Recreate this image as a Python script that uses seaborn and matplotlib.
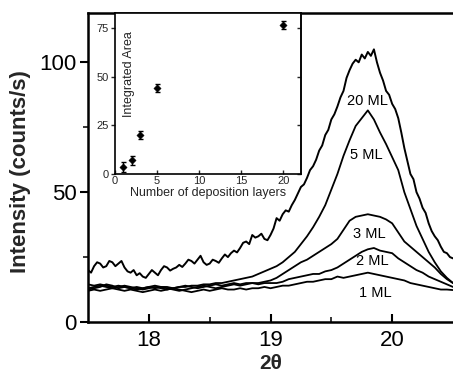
import numpy as np
import pandas as pd
import matplotlib
matplotlib.use("Agg")
import matplotlib.pyplot as plt
import seaborn as sns

# ---------------- data ----------------
two_theta = [17.50, 17.55, 17.60, 17.65, 17.70, 17.75, 17.80, 17.85, 17.90, 17.95,
             18.00, 18.05, 18.10, 18.15, 18.20, 18.25, 18.30, 18.35, 18.40, 18.45,
             18.50, 18.55, 18.60, 18.65, 18.70, 18.75, 18.80, 18.85, 18.90, 18.95,
             19.00, 19.05, 19.10, 19.15, 19.20, 19.25, 19.30, 19.35, 19.40, 19.45,
             19.50, 19.55, 19.60, 19.65, 19.70, 19.75, 19.80, 19.85, 19.90, 19.95,
             20.00, 20.05, 20.10, 20.15, 20.20, 20.25, 20.30, 20.35, 20.40, 20.45,
             20.50]

two_theta_fine = [17.500, 17.525, 17.550, 17.575, 17.600, 17.625, 17.650, 17.675, 17.700, 17.725,
                  17.750, 17.775, 17.800, 17.825, 17.850, 17.875, 17.900, 17.925, 17.950, 17.975,
                  18.000, 18.025, 18.050, 18.075, 18.100, 18.125, 18.150, 18.175, 18.200, 18.225,
                  18.250, 18.275, 18.300, 18.325, 18.350, 18.375, 18.400, 18.425, 18.450, 18.475,
                  18.500, 18.525, 18.550, 18.575, 18.600, 18.625, 18.650, 18.675, 18.700, 18.725,
                  18.750, 18.775, 18.800, 18.825, 18.850, 18.875, 18.900, 18.925, 18.950, 18.975,
                  19.000, 19.025, 19.050, 19.075, 19.100, 19.125, 19.150, 19.175, 19.200, 19.225,
                  19.250, 19.275, 19.300, 19.325, 19.350, 19.375, 19.400, 19.425, 19.450, 19.475,
                  19.500, 19.525, 19.550, 19.575, 19.600, 19.625, 19.650, 19.675, 19.700, 19.725,
                  19.750, 19.775, 19.800, 19.825, 19.850, 19.875, 19.900, 19.925, 19.950, 19.975,
                  20.000, 20.025, 20.050, 20.075, 20.100, 20.125, 20.150, 20.175, 20.200, 20.225,
                  20.250, 20.275, 20.300, 20.325, 20.350, 20.375, 20.400, 20.425, 20.450, 20.475,
                  20.500]

ml20 = [20.0, 19.0, 21.5, 23.0, 22.5, 21.0, 21.5, 23.5, 23.0, 21.5,
        22.5, 23.5, 21.0, 19.5, 19.0, 20.0, 18.0, 18.8, 17.5, 17.0,
        18.5, 20.0, 19.0, 18.0, 20.0, 21.5, 21.0, 19.8, 20.5, 21.0,
        22.0, 21.2, 22.5, 24.0, 23.5, 22.5, 24.0, 25.5, 23.0, 22.0,
        22.5, 24.0, 23.5, 22.8, 24.5, 26.0, 25.0, 26.5, 27.5, 26.8,
        28.5, 30.5, 31.0, 30.0, 33.5, 32.5, 33.0, 34.0, 32.0, 31.5,
        33.5, 36.0, 40.0, 39.0, 41.5, 43.0, 42.5, 45.0, 47.0, 49.5,
        52.0, 53.0, 55.5, 58.5, 60.0, 62.5, 66.0, 68.0, 72.0, 74.0,
        78.0, 80.0, 83.0, 86.5, 89.0, 94.0, 97.0, 99.5, 101.0, 100.0,
        103.0, 101.5, 104.0, 102.5, 105.0, 100.0, 96.0, 93.0, 89.0, 87.5,
        84.0, 82.0, 78.5, 73.0, 67.0, 62.0, 57.0, 55.0, 50.0, 47.5,
        44.0, 42.0, 38.0, 35.0, 33.0, 31.5, 29.0, 27.0, 26.5, 25.0,
        24.5]

ml5 = [14.5, 14.0, 14.5, 14.0, 13.5, 14.0, 13.5, 13.0, 13.5, 13.0,
       13.5, 13.0, 13.5, 13.5, 13.0, 13.5, 13.5, 14.0, 14.0, 14.5,
       14.5, 15.0, 15.0, 15.5, 16.0, 16.5, 17.0, 17.5, 18.5, 19.5,
       20.5, 21.5, 23.0, 25.0, 27.0, 30.0, 33.0, 36.5, 40.5, 45.0,
       51.0, 57.0, 64.0, 70.0, 75.5, 78.5, 81.5, 78.0, 73.0, 68.5,
       63.5, 58.5, 50.0, 43.5, 37.0, 32.0, 27.0, 23.0, 19.5, 17.0,
       15.0]

ml3 = [13.0, 13.5, 14.0, 13.5, 13.0, 13.5, 14.0, 13.5, 13.0, 12.5,
       13.0, 13.5, 13.0, 12.5, 13.0, 13.5, 14.0, 13.5, 13.0, 13.5,
       14.0, 14.5, 14.0, 14.5, 15.0, 14.5, 15.0, 15.0, 15.0, 15.5,
       16.0, 17.0, 18.5, 20.0, 21.5, 23.0, 24.0, 25.5, 27.0, 28.5,
       30.0, 32.0, 35.5, 39.0, 40.5, 41.0, 41.5, 41.0, 40.5, 39.5,
       38.0, 34.5, 31.0, 29.0, 27.0, 25.0, 23.0, 21.0, 18.5, 16.5,
       15.0]

ml2 = [12.5, 13.0, 13.5, 14.5, 14.0, 13.0, 13.5, 13.0, 12.5, 13.0,
       13.5, 14.0, 13.5, 13.0, 12.5, 12.0, 12.5, 13.0, 13.5, 14.0,
       13.5, 13.0, 13.5, 14.0, 14.5, 14.0, 14.5, 15.0, 14.5, 15.0,
       15.0, 15.0, 15.5, 16.5, 17.0, 17.5, 18.0, 18.5, 18.5, 19.5,
       20.0, 21.0, 22.5, 24.0, 25.5, 27.0, 28.0, 28.5, 27.5, 27.0,
       26.5, 24.5, 23.0, 21.5, 20.0, 19.0, 17.5, 16.5, 15.5, 14.5,
       13.5]

ml1 = [12.0, 12.5, 12.0, 12.5, 13.0, 12.5, 12.0, 12.5, 12.0, 11.5,
       12.0, 12.5, 12.0, 12.5, 13.0, 12.5, 12.0, 11.5, 12.0, 12.5,
       12.0, 12.5, 13.0, 12.5, 12.5, 13.0, 12.5, 13.0, 13.0, 13.5,
       13.0, 13.5, 14.0, 14.0, 14.5, 15.0, 15.5, 15.5, 16.0, 16.5,
       16.5, 17.5, 17.0, 17.5, 18.0, 18.5, 19.0, 18.5, 18.0, 17.5,
       17.0, 16.5, 16.0, 15.0, 14.5, 14.0, 13.5, 13.0, 12.5, 12.5,
       12.3]

curve_labels = ["20 ML", "5 ML", "3 ML", "2 ML", "1 ML"]
label_x = [19.80, 19.79, 19.81, 19.84, 19.86]
label_y = [85.0, 64.5, 34.0, 23.5, 11.2]

layers = [1, 2, 3, 5, 20]
area = [3.5, 7.0, 20.0, 44.0, 76.5]
area_err = [2.5, 2.5, 2.0, 2.0, 2.0]

# ---------------- style ----------------
sns.set_style("ticks")
plt.rcParams["font.family"] = ["Liberation Sans", "DejaVu Sans"]

fig = plt.figure(figsize=(4.53, 3.75), dpi=100)
ax = fig.add_axes([88 / 453, 1 - 322 / 375, 1 - 88 / 453, (322 - 13) / 375])

sns.lineplot(x=two_theta_fine, y=ml20, ax=ax, color="black", lw=1.4,
             estimator=None, sort=False, legend=False)
series = {"5 ML": ml5, "3 ML": ml3, "2 ML": ml2, "1 ML": ml1}
for name, vals in series.items():
    sns.lineplot(x=two_theta, y=vals, ax=ax, color="black", lw=1.3,
                 estimator=None, sort=False, legend=False)

for t, lx, ly in zip(curve_labels, label_x, label_y):
    ax.text(lx, ly, t, ha="center", va="center", fontsize=10.5, color="black")

ax.set_xlim(17.5, 20.5)
ax.set_ylim(0, 119)
ax.set_xticks([18, 19, 20])
ax.set_xticks([18.5, 19.5], minor=True)
ax.set_yticks([0, 50, 100])
ax.set_yticks([25, 75], minor=True)
ax.tick_params(axis="both", which="major", labelsize=16, width=1.5, colors="black")
ax.tick_params(axis="x", which="major", direction="in", length=6, pad=6)
ax.tick_params(axis="x", which="minor", direction="in", length=3.5, width=1.3)
ax.tick_params(axis="y", which="major", direction="out", length=6, pad=2)
ax.tick_params(axis="y", which="minor", direction="out", length=3.5, width=1.3)
for s in ["left", "bottom", "top"]:
    ax.spines[s].set_linewidth(1.8)
    ax.spines[s].set_color("black")
ax.spines["right"].set_visible(False)
ax.set_xlabel("2θ", fontsize=15, fontweight="bold", labelpad=2)
ax.set_ylabel("Intensity (counts/s)", fontsize=16, fontweight="bold")
ax.yaxis.set_label_coords(-0.155, 0.487)

# ---------------- inset ----------------
axi = fig.add_axes([115 / 453, 1 - 174 / 375, (301 - 115) / 453, (174 - 13) / 375])
df = pd.DataFrame({"layers": layers, "area": area})
axi.errorbar(layers, area, yerr=area_err, fmt="none", ecolor="black",
             elinewidth=1.0, capsize=1.8, capthick=1.0)
sns.scatterplot(data=df, x="layers", y="area", ax=axi, color="black",
                marker="D", s=14, edgecolor="black", zorder=3, legend=False)
axi.set_xlim(0, 22.1)
axi.set_ylim(0, 82.7)
axi.set_xticks([0, 5, 10, 15, 20])
axi.set_yticks([0, 25, 50, 75])
axi.tick_params(axis="both", labelsize=8, width=1.0, length=3, pad=1.5)
axi.tick_params(axis="x", direction="in")
axi.tick_params(axis="y", direction="out")
sec = axi.secondary_yaxis("right")
sec.set_yticks([0, 25, 50, 75])
sec.tick_params(direction="in", length=3, width=1.0, labelright=False)
sec.spines["right"].set_linewidth(1.2)
for s in ["left", "bottom", "right", "top"]:
    axi.spines[s].set_linewidth(1.2)
    axi.spines[s].set_color("black")
axi.set_xlabel("Number of deposition layers", fontsize=9, labelpad=1)
axi.set_ylabel("")
axi.text(0.075, 0.62, "Integrated Area", rotation=90, fontsize=9,
         ha="center", va="center", transform=axi.transAxes)

fig.savefig("out.png", dpi=100)
